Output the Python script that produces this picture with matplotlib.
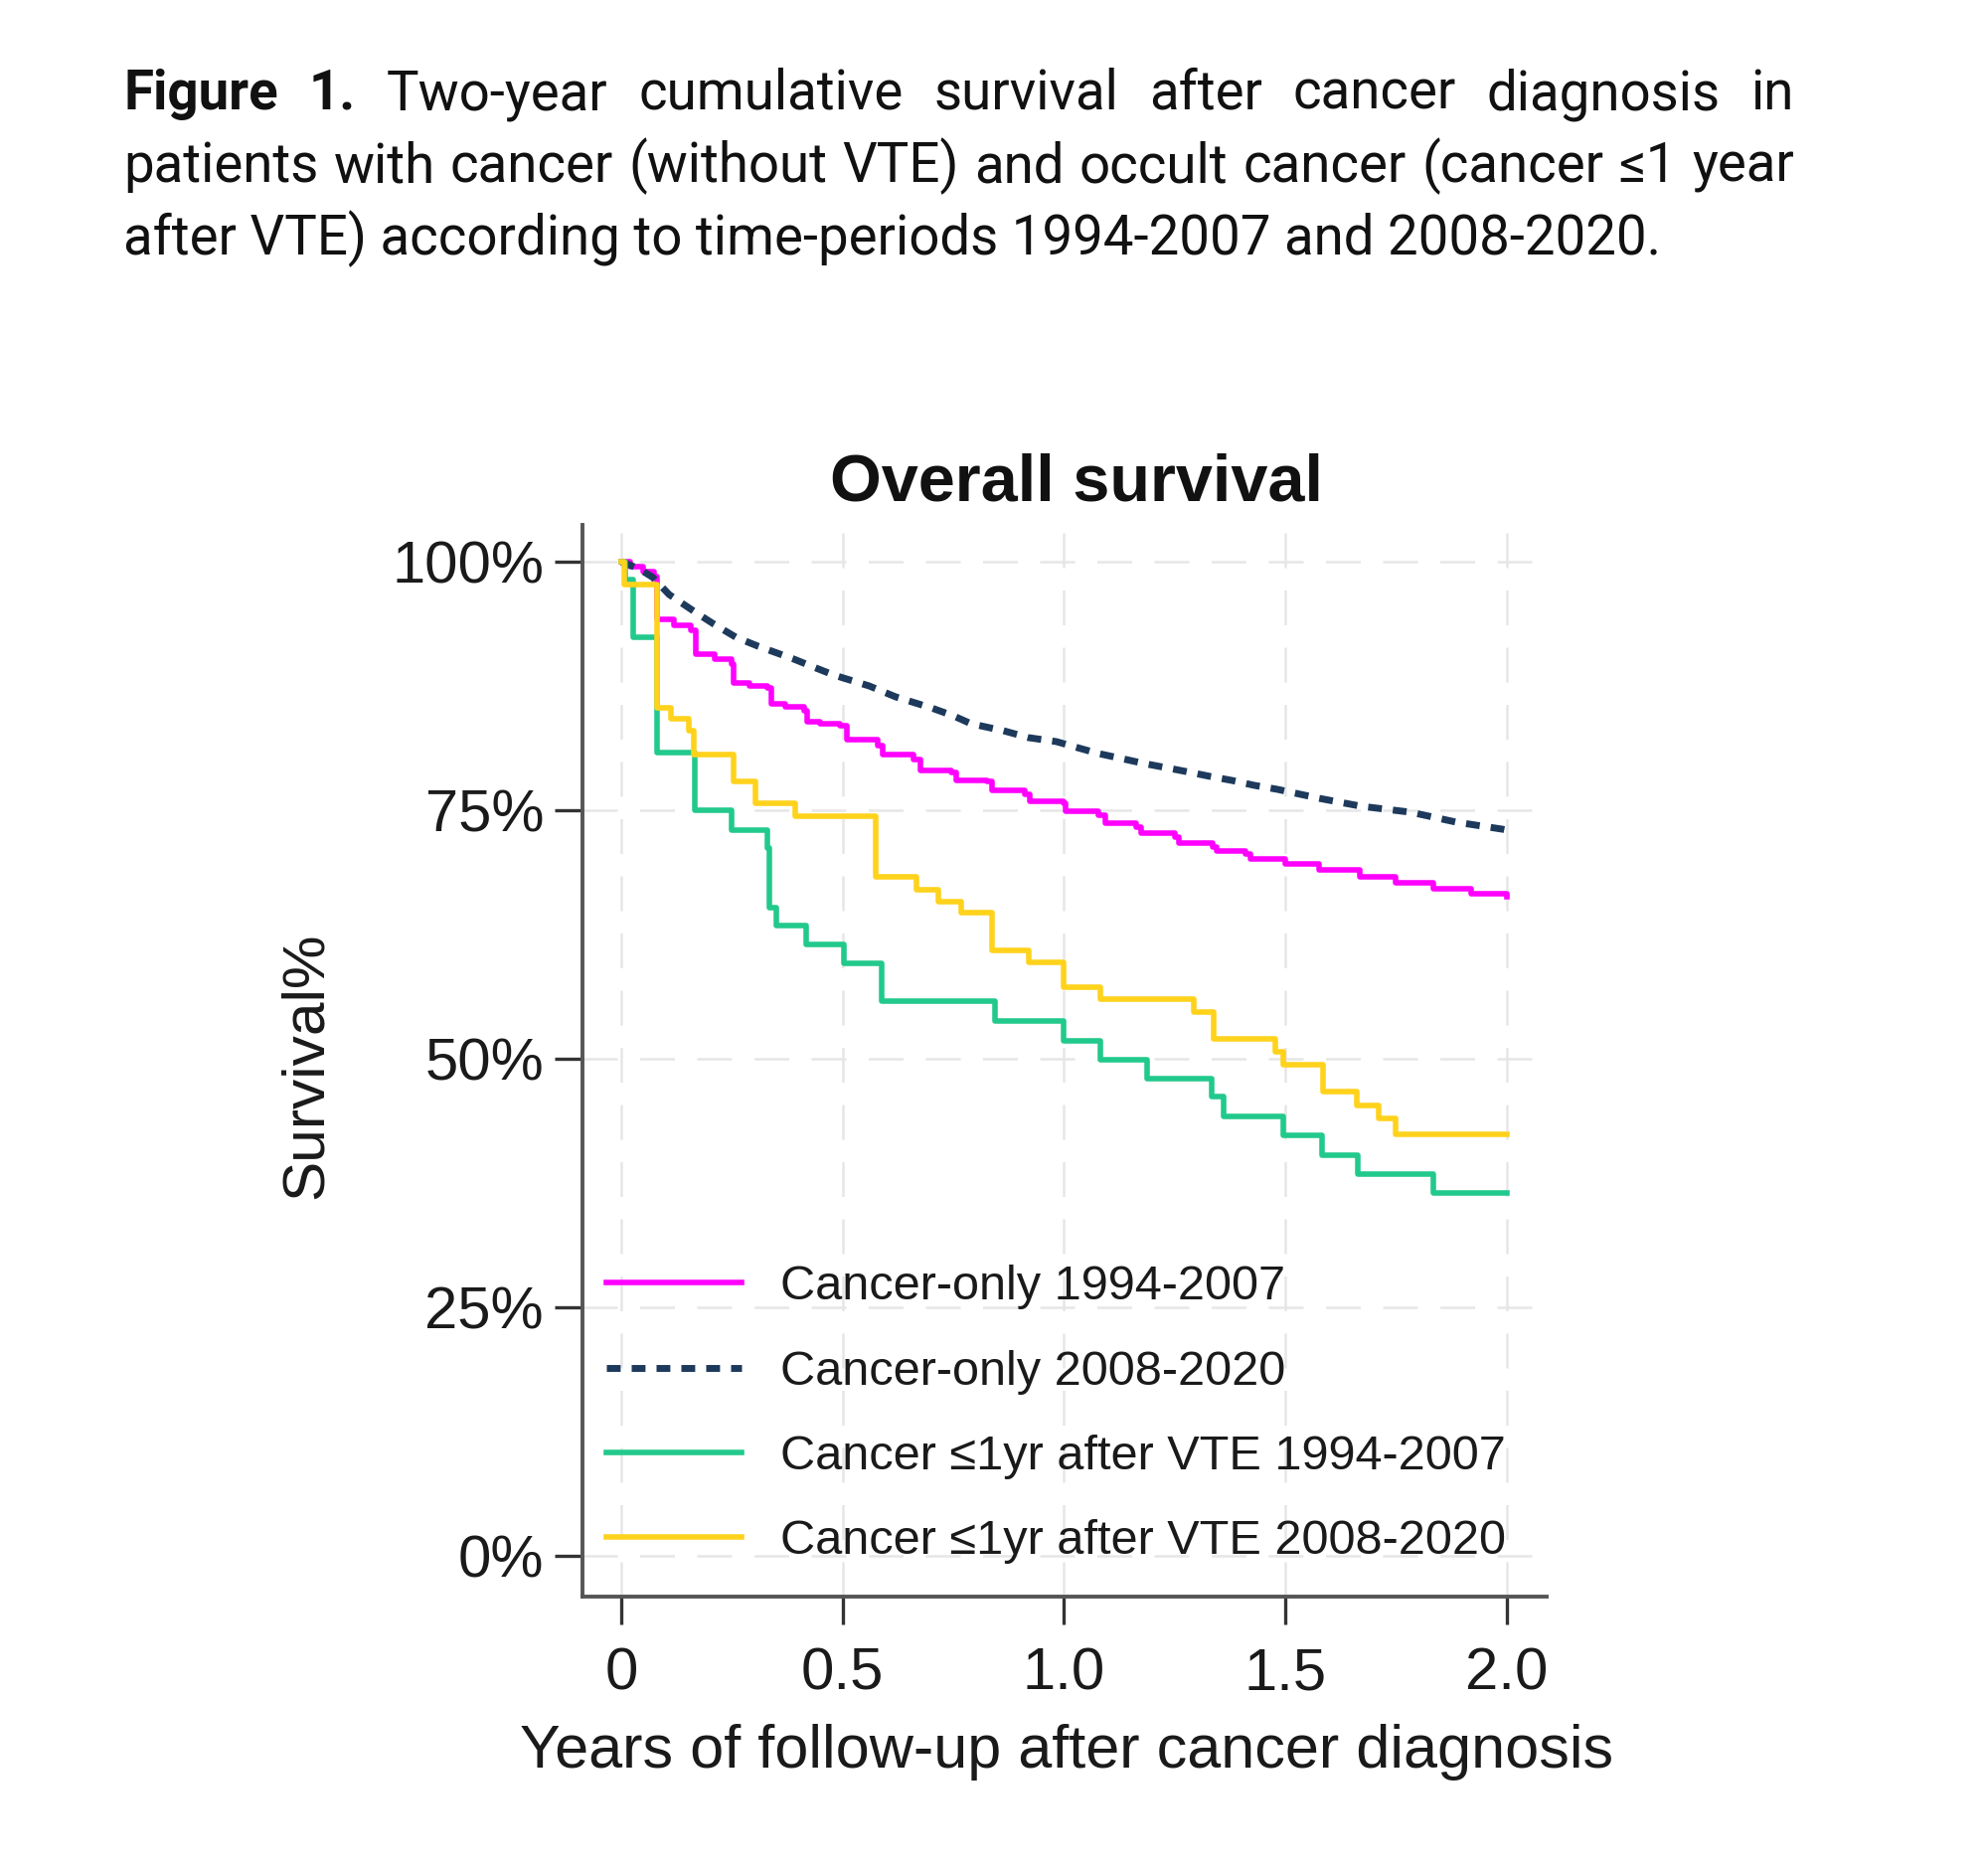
import matplotlib
matplotlib.use('Agg')
import matplotlib.pyplot as plt

plt.rcParams['font.family'] = ['Liberation Sans', 'DejaVu Sans']

# data (years, survival %)
green_t = [0, 0.008, 0.028, 0.08, 0.166, 0.25, 0.33, 0.335, 0.35, 0.417, 0.503, 0.588,
           0.845, 1.0, 1.083, 1.187, 1.333, 1.36, 1.495, 1.582, 1.663, 1.833, 2.0]
green_s = [100, 98.2, 92.4, 80.8, 75.0, 73.0, 71.2, 65.2, 63.4, 61.5, 59.6, 55.8,
           53.8, 51.8, 49.9, 48.0, 46.2, 44.2, 42.3, 40.3, 38.4, 36.5, 36.5]

yellow_t = [0, 0.006, 0.08, 0.113, 0.153, 0.163, 0.254, 0.304, 0.394, 0.575, 0.666, 0.716,
            0.767, 0.837, 0.92, 1.0, 1.083, 1.292, 1.338, 1.478, 1.496, 1.585, 1.662,
            1.71, 1.748, 2.0]
yellow_s = [100, 97.7, 85.3, 84.2, 83.0, 80.6, 77.9, 75.7, 74.4, 68.3, 67.0, 65.8,
            64.7, 60.9, 59.7, 57.2, 56.0, 54.7, 52.0, 50.7, 49.4, 46.7, 45.3,
            44.0, 42.4, 42.4]

magenta_t = [0, 0.02, 0.05, 0.075, 0.08, 0.12, 0.158, 0.168, 0.21, 0.249, 0.254, 0.29,
             0.329, 0.339, 0.37, 0.414, 0.419, 0.45, 0.495, 0.51, 0.58, 0.59, 0.661,
             0.676, 0.746, 0.756, 0.827, 0.837, 0.912, 0.922, 0.998, 1.003, 1.078,
             1.093, 1.164, 1.174, 1.25, 1.26, 1.335, 1.345, 1.409, 1.42, 1.499, 1.576,
             1.667, 1.748, 1.834, 1.92, 2.0]
magenta_s = [100, 99.5, 99.0, 98.5, 94.2, 93.6, 93.1, 90.7, 90.2, 89.7, 87.8, 87.5,
             87.3, 85.7, 85.4, 85.0, 83.9, 83.7, 83.5, 82.1, 81.5, 80.6, 80.1,
             79.0, 78.8, 78.0, 77.9, 77.0, 76.6, 75.9, 75.7, 74.9, 74.5,
             73.7, 73.3, 72.7, 72.3, 71.7, 71.3, 70.9, 70.6, 70.1, 69.6, 69.0,
             68.3, 67.7, 67.1, 66.6, 66.3]

blue_t = [0, 0.04, 0.072, 0.108, 0.168, 0.21, 0.259, 0.309, 0.39, 0.44, 0.48, 0.56,
          0.62, 0.70, 0.75, 0.79, 0.863, 0.92, 0.983, 1.03, 1.078, 1.13, 1.181, 1.275,
          1.33, 1.379, 1.43, 1.482, 1.576, 1.671, 1.783, 1.886, 1.989, 2.0]
blue_s = [100, 99.3, 98.4, 96.7, 94.9, 93.7, 92.4, 91.5, 90.2, 89.3, 88.6, 87.5,
          86.4, 85.3, 84.5, 83.7, 83.0, 82.3, 81.9, 81.3, 80.7, 80.2, 79.7, 78.9,
          78.4, 78.0, 77.5, 77.1, 76.2, 75.4, 74.8, 73.8, 73.1, 73.0]

labels = ['Cancer-only 1994-2007', 'Cancer-only 2008-2020',
          'Cancer \u22641yr after VTE 1994-2007', 'Cancer \u22641yr after VTE 2008-2020']
xticks = [0, 0.5, 1.0, 1.5, 2.0]
xticklabels = ['0', '0.5', '1.0', '1.5', '2.0']
yticks = [0, 25, 50, 75, 100]
yticklabels = ['0%', '25%', '50%', '75%', '100%']

W, H = 2000, 1879
fig = plt.figure(figsize=(W / 100, H / 100), dpi=100)
ax = fig.add_axes([586 / W, 1 - 1606 / H, 970 / W, 1078 / H])

ax.plot(magenta_t, magenta_s, drawstyle='steps-post', color='#ff00ff', lw=4.0,
        label=labels[0])
ax.plot(blue_t, blue_s, color='#1d3a5c', lw=5.0, dashes=(2.0, 1.6),
        dash_capstyle='butt', label=labels[1])
ax.plot(green_t, green_s, drawstyle='steps-post', color='#22c98c', lw=4.0,
        label=labels[2])
ax.plot(yellow_t, yellow_s, drawstyle='steps-post', color='#ffd21c', lw=4.0,
        label=labels[3])

ax.set_xlim(-0.0875, 2.09)
ax.set_ylim(-4.1, 103.7)
ax.set_xticks(xticks)
ax.set_xticklabels(xticklabels)
ax.set_yticks(yticks)
ax.set_yticklabels(yticklabels)

for s in ['top', 'right']:
    ax.spines[s].set_visible(False)
for s in ['left', 'bottom']:
    ax.spines[s].set_color('#555555')
    ax.spines[s].set_linewidth(2.8)
ax.tick_params(axis='both', length=20, width=2.4, color='#333333',
               labelsize=43, labelcolor='#1a1a1a')
ax.tick_params(axis='x', pad=16.5)
ax.tick_params(axis='y', pad=8)
ax.grid(True, color='#e6e6e6', lw=1.8, ls=(0, (14, 9)))
ax.set_axisbelow(True)

ax.set_xlabel('Years of follow-up after cancer diagnosis', fontsize=44, color='#1a1a1a')
ax.xaxis.set_label_coords(0.502, -0.145)
ax.xaxis.label.set_va('center')
ax.set_ylabel('Survival%', fontsize=43.5, color='#1a1a1a')
ax.yaxis.set_label_coords(-0.2866, 0.496)
ax.yaxis.label.set_va('center')

leg = ax.legend(loc='upper left', bbox_to_anchor=(0.025, 0.3095), frameon=False,
                fontsize=35, handlelength=2.8, handletextpad=0.8, labelspacing=0.83,
                borderpad=0, borderaxespad=0)
for t in leg.get_texts():
    t.set_color('#1a1a1a')

fig.text(1083 / W, 1 - 487 / H, 'Overall survival', fontsize=48, fontweight='bold',
         ha='center', va='center', color='#111111')

# caption, first two lines justified
cap_font = ['Roboto', 'DejaVu Sans']
cap_size = 39.3
lines = [
    [('Figure', 'bold'), ('1.', 'bold'), ('Two-year', 'normal'), ('cumulative', 'normal'),
     ('survival', 'normal'), ('after', 'normal'), ('cancer', 'normal'),
     ('diagnosis', 'normal'), ('in', 'normal')],
    [(w, 'normal') for w in 'patients with cancer (without VTE) and occult cancer (cancer \u22641 year'.split(' ')],
]
last_line = 'after VTE) according to time-periods 1994-2007 and 2008-2020.'
x0, x1 = 124, 1805
baselines = [110, 183, 256]

renderer = fig.canvas.get_renderer()
for line, yb in zip(lines, baselines):
    texts = []
    for word, wt in line:
        t = fig.text(0, 1 - yb / H, word, fontsize=cap_size, fontweight=wt,
                     family=cap_font, va='baseline', ha='left', color='#111111')
        texts.append(t)
    widths = [t.get_window_extent(renderer).width for t in texts]
    gap = (x1 - x0 - sum(widths)) / (len(texts) - 1)
    x = x0
    for t, w in zip(texts, widths):
        t.set_x(x / W)
        x += w + gap
fig.text(x0 / W, 1 - baselines[2] / H, last_line, fontsize=cap_size, family=cap_font,
         va='baseline', ha='left', color='#111111')

fig.savefig('out.png', dpi=100, facecolor='white')
